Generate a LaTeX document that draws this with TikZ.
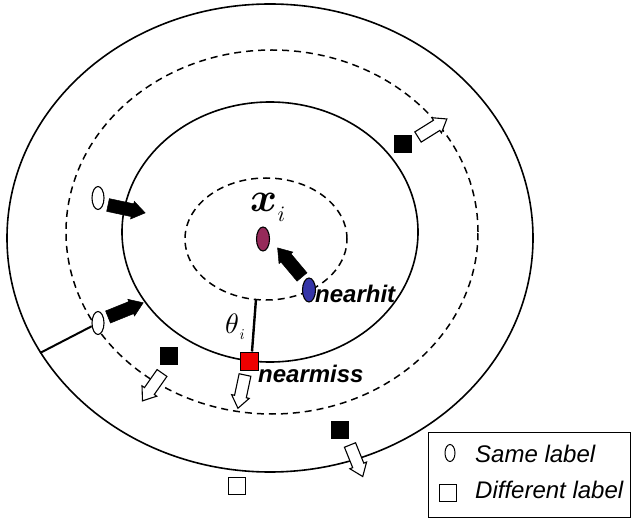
\documentclass[tikz,border=0pt]{standalone}
\usepackage{fontspec}
\newfontfamily\lsans{Liberation Sans}
\usetikzlibrary{shapes.geometric}
\definecolor{xicol}{HTML}{962A5A}
\definecolor{hitcol}{HTML}{3535A8}
\definecolor{misscol}{HTML}{EE0000}
% fat arrow: tail x, tail y, direction angle, style
\newcommand\fatarrow[4]{%
  \draw[#4, shift={(#1,#2)}, rotate=#3]
    (0pt,-6.5pt) -- (25pt,-6.5pt) -- (25pt,-9pt) -- (38pt,0pt) -- (25pt,9pt) -- (25pt,6.5pt) -- (0pt,6.5pt) -- cycle;}
\newcommand\openarrow[4]{%
  \draw[#4, shift={(#1,#2)}, rotate=#3]
    (0pt,-6pt) -- (22pt,-6pt) -- (22pt,-9pt) -- (34pt,0pt) -- (22pt,9pt) -- (22pt,6pt) -- (0pt,6pt) -- cycle;}
\begin{document}
\begin{tikzpicture}[x=1pt,y=-1pt,
  solidring/.style={line width=1.6pt},
  dashring/.style={line width=1.5pt, dash pattern=on 7pt off 5pt},
  oval/.style={ellipse, draw, line width=1.1pt, minimum width=12pt, minimum height=23pt, inner sep=0pt},
  blacksq/.style={rectangle, fill=black, minimum size=18pt, inner sep=0pt},
  opensq/.style={rectangle, draw, line width=1.1pt, minimum size=17pt, inner sep=0pt},
  blackarr/.style={fill=black, draw=black, line width=0.5pt},
  whitearr/.style={fill=white, draw=black, line width=1.1pt},
  mathlbl/.style={anchor=base west, inner sep=0pt},
  lbl/.style={anchor=base west, inner sep=0pt, font=\lsans\fontsize{24}{24}\selectfont},
]
\useasboundingbox (0,0) rectangle (631,518);
% rings
\draw[solidring] (270,238) ellipse [x radius=263pt, y radius=234pt];
\draw[dashring] (272,232) ellipse [x radius=206pt, y radius=182pt];
\draw[solidring] (270,232) ellipse [x radius=148pt, y radius=130pt];
\draw[dashring] (266,239) ellipse [x radius=81pt, y radius=61pt];

% same-label points
\node[oval, fill=white] (o1) at (98,198) {};
\node[oval, fill=white] (o2) at (98,323) {};
\node[oval, fill=xicol, minimum width=13pt, minimum height=24pt] (xo) at (263,239) {};
\node[oval, fill=hitcol, minimum width=13pt, minimum height=24pt] (ho) at (309,290) {};

% line from o2 to outer ring
\coordinate (edge) at (40,353);
\draw[line width=2pt] (o2) -- (edge);

% theta line
\coordinate (tt) at (256,299);
\node[rectangle, draw=black, fill=misscol, line width=1pt, minimum size=18pt, inner sep=0pt] (nm) at (249,361) {};
\draw[line width=2.4pt] (tt) -- ([xshift=3pt]nm.north);

% different-label points
\node[blacksq] (b1) at (403,144) {};
\node[blacksq] (b2) at (169,356) {};
\node[blacksq] (b3) at (340,430) {};
\node[opensq] (w1) at (237,486) {};

% black arrows
\fatarrow{108}{205}{-12}{blackarr}
\fatarrow{108}{317}{22}{blackarr}
\fatarrow{302}{277}{130}{blackarr}

% open arrows
\openarrow{418}{137}{32}{whitearr}
\openarrow{162}{373}{235}{whitearr}
\openarrow{245}{375}{-102}{whitearr}
\openarrow{350}{445}{-68}{whitearr}

% labels
\node[mathlbl] (xil) at (250,212) {\scalebox{4.1}{\boldmath$x$}\hspace{0.5pt}\raisebox{-10pt}{\scalebox{2.2}{$i$}}};
\node[mathlbl] (thl) at (225,333) {\scalebox{2.8}{$\theta$}\hspace{0.5pt}\raisebox{-6pt}{\scalebox{1.5}{$i$}}};
\node[lbl, font=\lsans\bfseries\itshape\fontsize{24}{24}\selectfont] (nh) at (315,302) {nearhit};
\node[lbl, font=\lsans\bfseries\itshape\fontsize{24}{24}\selectfont] (nml) at (258,382) {nearmiss};

% legend
\draw[line width=1pt] (428,432) rectangle (630.5,517.5);
\node[oval, line width=1pt, minimum width=10pt, minimum height=17pt] (lo) at (450,453) {};
\node[opensq] (ls) at (448,493) {};
\node[lbl, font=\lsans\itshape\fontsize{24}{24}\selectfont] (t1) at (475,462) {Same label};
\node[lbl, font=\lsans\itshape\fontsize{24}{24}\selectfont] (t2) at (475,498) {Different label};
\end{tikzpicture}
\end{document}
